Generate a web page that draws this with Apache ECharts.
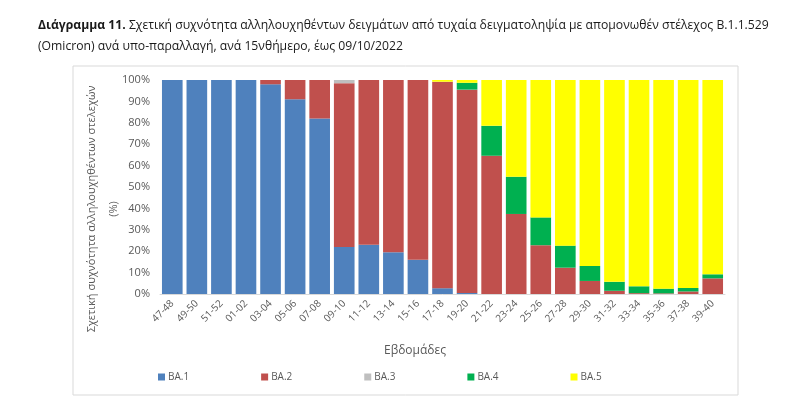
<!DOCTYPE html>
<html>
<head>
<meta charset="utf-8">
<script src="https://cdn.jsdelivr.net/npm/echarts@6/dist/echarts.min.js"></script>
<style>
  html, body { margin: 0; padding: 0; background: #fff; }
  #chart { width: 800px; height: 418px; }
</style>
</head>
<body>
<div id="chart"></div>
<script>
// δεκαπενθήμερα (εβδομάδες)
const weeks = ['47-48', '49-50', '51-52', '01-02', '03-04', '05-06', '07-08', '09-10', '11-12', '13-14', '15-16', '17-18',
  '19-20', '21-22', '23-24', '25-26', '27-28', '29-30', '31-32', '33-34', '35-36', '37-38', '39-40']

// ποσοστά ανά υπο-παραλλαγή (%)
const ba1 = [100, 100, 100, 100, 98, 91, 82, 22, 23, 19.5, 16, 2.7, 0.5, 0, 0, 0, 0, 0, 0, 0, 0, 0, 0]
const ba2 = [0, 0, 0, 0, 2, 9, 18, 76.5, 77, 80.5, 84, 96.5, 95, 64.6, 37.4, 22.8, 12.3, 6.1, 1.5, 0.4, 0.3, 1.2, 7.3]
const ba3 = [0, 0, 0, 0, 0, 0, 0, 1.5, 0, 0, 0, 0, 0, 0, 0, 0, 0, 0, 0, 0, 0, 0, 0]
const ba4 = [0, 0, 0, 0, 0, 0, 0, 0, 0, 0, 0, 0, 3.2, 14, 17.4, 13, 10.3, 7, 4.2, 3.2, 2.2, 1.6, 1.9]
const ba5 = [0, 0, 0, 0, 0, 0, 0, 0, 0, 0, 0, 0.8, 1.3, 21.4, 45.2, 64.2, 77.4, 86.9, 94.3, 96.4, 97.5, 97.2, 90.8]

const seriesNames = ['BA.1', 'BA.2', 'BA.3', 'BA.4', 'BA.5']
const seriesColors = ['#4F81BD', '#C0504D', '#BFBFBF', '#00B050', '#FFFF00']
const seriesData = [ba1, ba2, ba3, ba4, ba5]

const font = 'Open Sans, sans-serif'
const grey = '#595959'

const chart = echarts.init(document.getElementById('chart'), null, { renderer: 'canvas' })

chart.setOption({
  animation: false,
  textStyle: { fontFamily: font },
  title: {
    left: 33,
    top: 10,
    text: '{b|Διάγραμμα 11.} Σχετική συχνότητα αλληλουχηθέντων δειγμάτων από τυχαία δειγματοληψία με απομονωθέν στέλεχος B.1.1.529\n(Omicron) ανά υπο-παραλλαγή, ανά 15νθήμερο, έως 09/10/2022',
    textStyle: {
      fontFamily: font,
      fontSize: 12.2,
      fontWeight: 'normal',
      color: '#1a1a1a',
      lineHeight: 21,
      rich: {
        b: { fontFamily: font, fontSize: 12.2, fontWeight: 'bold', color: '#1a1a1a', lineHeight: 21 }
      }
    }
  },
  graphic: [
    {
      type: 'rect',
      shape: { x: 73, y: 66, width: 665, height: 329 },
      style: { fill: 'none', stroke: '#D9D9D9', lineWidth: 1 },
      silent: true
    },
    {
      type: 'text',
      x: 103,
      y: 209,
      rotation: Math.PI / 2,
      style: {
        text: 'Σχετική συχνότητα αλληλουχηθέντων στελεχών\n(%)',
        fontFamily: font,
        fontSize: 11,
        lineHeight: 22,
        fill: grey,
        align: 'center',
        verticalAlign: 'middle'
      }
    },
    {
      type: 'text',
      x: 415,
      y: 351,
      style: {
        text: 'Εβδομάδες',
        fontFamily: font,
        fontSize: 12,
        fill: grey,
        align: 'center',
        verticalAlign: 'middle'
      }
    }
  ],
  legend: {
    left: 153,
    top: 367,
    itemWidth: 7,
    itemHeight: 7,
    itemGap: 72,
    icon: 'rect',
    textStyle: { fontFamily: font, fontSize: 10, color: grey, padding: [0, 0, 0, -2] },
    data: seriesNames
  },
  grid: { left: 160, right: 75, top: 80, bottom: 124 },
  xAxis: {
    type: 'category',
    data: weeks,
    axisLine: { lineStyle: { color: '#D9D9D9' } },
    axisTick: { show: false },
    axisLabel: { rotate: 45, fontSize: 10, color: grey, margin: 8, interval: 0 }
  },
  yAxis: {
    type: 'value',
    min: 0,
    max: 100,
    interval: 10,
    splitLine: { show: false },
    axisLine: { show: false },
    axisTick: { show: false },
    axisLabel: { formatter: '{value}%', fontSize: 11, color: grey, margin: 10 }
  },
  series: seriesNames.map((name, i) => ({
    name: name,
    type: 'bar',
    stack: 'total',
    barCategoryGap: '16%',
    itemStyle: { color: seriesColors[i] },
    data: seriesData[i]
  }))
})
</script>
</body>
</html>
